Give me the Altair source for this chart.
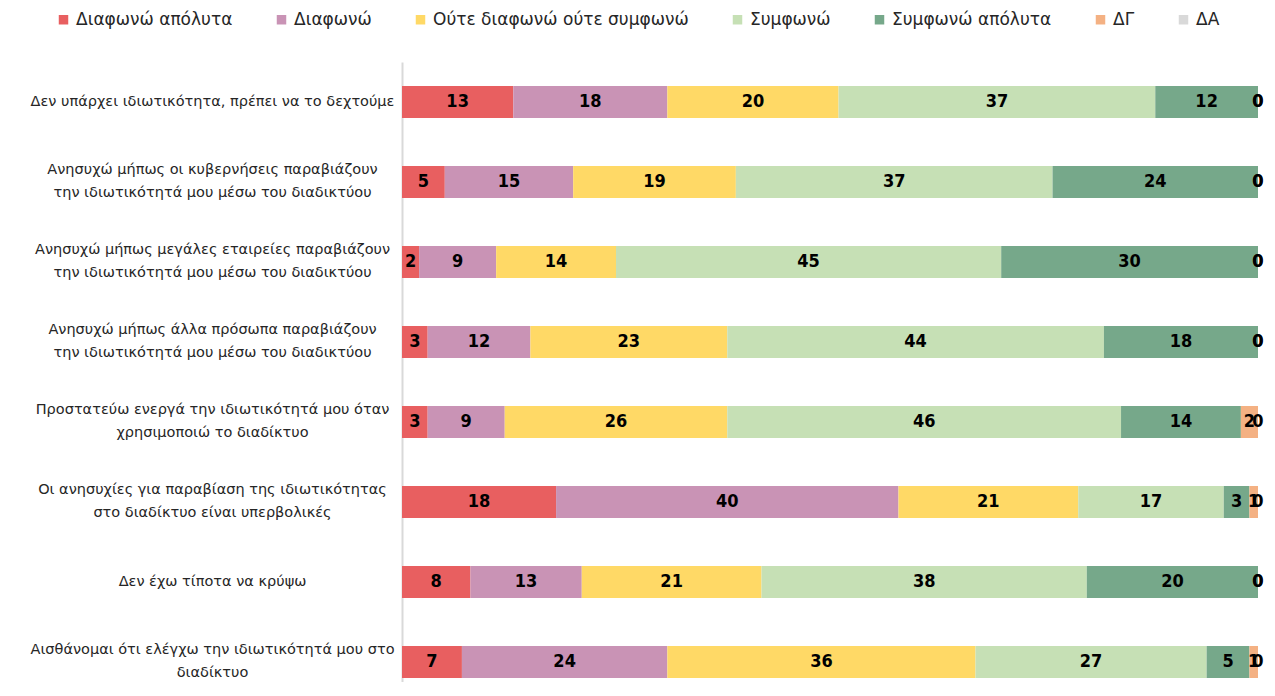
import altair as alt
import pandas as pd

categories = [
    ["Δεν υπάρχει ιδιωτικότητα, πρέπει να το δεχτούμε"],
    ["Ανησυχώ μήπως οι κυβερνήσεις παραβιάζουν", "την ιδιωτικότητά μου μέσω του διαδικτύου"],
    ["Ανησυχώ μήπως μεγάλες εταιρείες παραβιάζουν", "την ιδιωτικότητά μου μέσω του διαδικτύου"],
    ["Ανησυχώ μήπως άλλα πρόσωπα παραβιάζουν", "την ιδιωτικότητά μου μέσω του διαδικτύου"],
    ["Προστατεύω ενεργά την ιδιωτικότητά μου όταν", "χρησιμοποιώ το διαδίκτυο"],
    ["Οι ανησυχίες για παραβίαση της ιδιωτικότητας", "στο διαδίκτυο είναι υπερβολικές"],
    ["Δεν έχω τίποτα να κρύψω"],
    ["Αισθάνομαι ότι ελέγχω την ιδιωτικότητά μου στο", "διαδίκτυο"],
]

series = ["Διαφωνώ απόλυτα", "Διαφωνώ", "Ούτε διαφωνώ ούτε συμφωνώ",
          "Συμφωνώ", "Συμφωνώ απόλυτα", "ΔΓ", "ΔΑ"]
colors = ["#E85F60", "#C993B5", "#FFD966", "#C6E0B5", "#76A88A", "#F4B183", "#D9D9D9"]

diafono_apolyta = [13, 5, 2, 3, 3, 18, 8, 7]
diafono = [18, 15, 9, 12, 9, 40, 13, 24]
oute = [20, 19, 14, 23, 26, 21, 21, 36]
symfono = [37, 37, 45, 44, 46, 17, 38, 27]
symfono_apolyta = [12, 24, 30, 18, 14, 3, 20, 5]
dg = [0, 0, 0, 0, 2, 1, 0, 1]
da = [0, 0, 0, 0, 0, 0, 0, 0]

values = [diafono_apolyta, diafono, oute, symfono, symfono_apolyta, dg, da]

cat_labels = ["|".join(c) for c in categories]

rows = []
for si, (s, vals) in enumerate(zip(series, values)):
    for ci, v in enumerate(vals):
        rows.append({"category": cat_labels[ci], "series": s, "order": si, "value": v})
df = pd.DataFrame(rows)

FONT = "DejaVu Sans"
NUMFONT = "DejaVu Sans Condensed, Liberation Sans Narrow, DejaVu Sans, sans-serif"

base = alt.Chart(df).transform_stack(
    stack="value",
    groupby=["category"],
    sort=[alt.SortField("order", order="ascending")],
    as_=["x0", "x1"],
).transform_calculate(mid="(datum.x0 + datum.x1) / 2")

yenc = alt.Y(
    "category:N",
    sort=cat_labels,
    scale=alt.Scale(paddingInner=0.6, paddingOuter=0.175, align=0.857),
    axis=alt.Axis(
        title=None,
        ticks=False,
        labelExpr="split(datum.label, '|')",
        labelAlign="center",
        labelBaseline="middle",
        labelPadding=190,
        labelLimit=500,
        labelFont=FONT,
        labelFontSize=14.5,
        labelColor="#262626",
        labelLineHeight=23,
        labelOffset={"expr": "indexof(datum.value, '|') >= 0 ? -11.5 : 0"},
        domainColor="#D9D9D9",
        domainWidth=2,
    ),
)

xscale = alt.Scale(domain=[0, 100], nice=False, zero=True)

bars = base.mark_bar(size=32).encode(
    x=alt.X("x0:Q", scale=xscale, axis=None),
    x2="x1:Q",
    y=yenc,
    color=alt.Color(
        "series:N",
        sort=series,
        scale=alt.Scale(domain=series, range=colors),
        legend=alt.Legend(
            title=None,
            orient="none",
            direction="horizontal",
            legendX=-347,
            legendY=-51,
            symbolType="square",
            symbolSize=90,
            symbolStrokeWidth=0,
            labelFont=FONT,
            labelFontSize=17,
            labelLimit=600,
            labelColor="#262626",
            columnPadding=40,
            labelOffset=4,
            padding=0,
        ),
    ),
    order=alt.Order("order:Q"),
)

labels = base.mark_text(
    font=NUMFONT, fontSize=18, fontWeight="bold", color="black", baseline="middle"
).encode(
    x=alt.X("mid:Q", scale=xscale, axis=None),
    y=alt.Y("category:N", sort=cat_labels),
    text=alt.Text("value:Q"),
)

chart = alt.layer(bars, labels).properties(
    width=856,
    height=620,
    autosize=alt.AutoSizeParams(type="none"),
    padding={"left": 394, "top": 54, "right": 9, "bottom": 0},
).configure_view(stroke=None)

chart.save("out.html", embed_options={"renderer": "svg", "actions": False})
